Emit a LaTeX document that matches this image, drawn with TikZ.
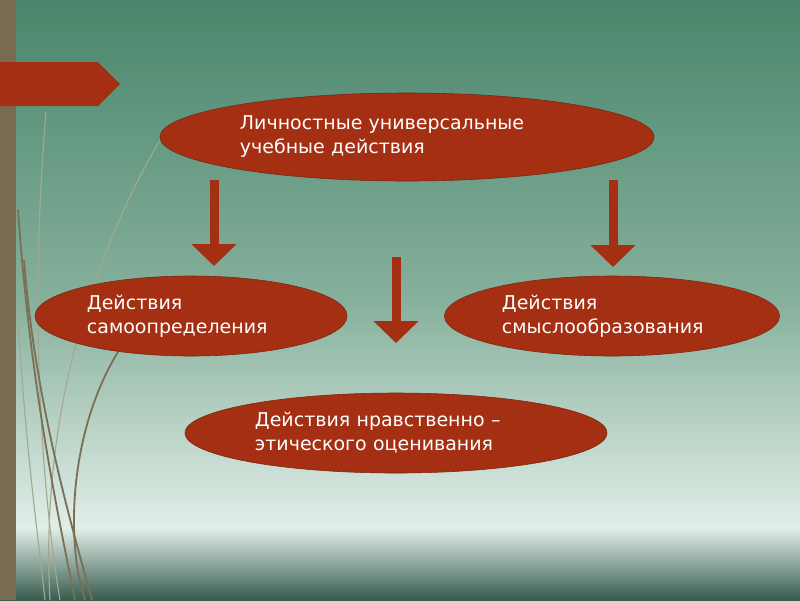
\documentclass[tikz,border=0pt]{standalone}
\usepackage{fontspec}
\setmainfont{DejaVu Sans}
\usetikzlibrary{shapes.geometric,arrows.meta}
\definecolor{slidered}{HTML}{A52F12}
\definecolor{ovalline}{HTML}{7A2410}
\definecolor{barbrown}{HTML}{776B52}
\definecolor{grassdark}{HTML}{7B6F55}
\definecolor{grasslight}{HTML}{A3A891}
\definecolor{bgtop}{HTML}{4A866B}
\definecolor{bgmid}{HTML}{86B09C}
\definecolor{bglight}{HTML}{E2EEE8}
\definecolor{bgfoot}{HTML}{8FAA9D}
\definecolor{bgbottom}{HTML}{365C4D}
\begin{document}
\begin{tikzpicture}[x=0.025cm,y=-0.025cm,
  oval/.style={ellipse, draw=ovalline, fill=slidered, text=white, inner sep=0pt, align=left, font=\fontsize{13.5}{17}\selectfont},
  blockarrow/.style={draw=slidered, line width=0.225cm, -{Triangle[width=1.1cm,length=0.55cm]}},
  grass/.style={draw=grassdark, line width=1.3pt},
  grassfaint/.style={draw=grasslight, line width=0.8pt}]
\useasboundingbox (0,0) rectangle (800,600);
% background
\shade[top color=bgtop, bottom color=bgmid] (0,0) rectangle (800,300);
\shade[top color=bgmid, bottom color=bglight] (0,300) rectangle (800,528);
\shade[top color=bglight, middle color=bgfoot, bottom color=bgbottom] (0,528) rectangle (800,600);
% grass
\path[grassfaint] (46,112) .. controls (30,300) and (40,480) .. (60,600);
\path[grassfaint] (160,140) .. controls (90,260) and (40,420) .. (50,600);
\path[grassfaint] (17,300) .. controls (25,450) and (40,550) .. (45,600);
\path[grass] (18,210) .. controls (30,380) and (55,500) .. (75,600);
\path[grass] (24,260) .. controls (35,400) and (70,520) .. (92,600);
\path[grass] (118,352) .. controls (70,430) and (65,540) .. (85,600);
% left bar and banner
\fill[barbrown] (0,0) rectangle (16,600);
\fill[slidered] (0,62) -- (98,62) -- (120,84) -- (98,106) -- (0,106) -- cycle;
% ovals
\node[oval, minimum width=12.35cm, minimum height=2.2cm, text width=8.35cm] (lichn) at (407,137) {Личностные универсальные\\учебные действия};
\node[oval, minimum width=7.8cm, minimum height=2cm, text width=5.2cm] (samo) at (191,316) {Действия\\самоопределения};
\node[oval, minimum width=8.375cm, minimum height=2cm, text width=5.5cm] (smysl) at (612,316) {Действия\\смыслообразования};
\node[oval, minimum width=10.55cm, minimum height=2cm, text width=7.05cm] (nravs) at (396,433) {Действия нравственно –\\этического оценивания};
% arrows
\coordinate (la) at (214,180);
\coordinate (lb) at (214,266);
\coordinate (ra) at (613,180);
\coordinate (rb) at (613,267);
\coordinate (ma) at (396,257);
\coordinate (mb) at (396,343);
\path[blockarrow] (la) -- (lb);
\path[blockarrow] (ra) -- (rb);
\path[blockarrow] (ma) -- (mb);
\end{tikzpicture}
\end{document}
